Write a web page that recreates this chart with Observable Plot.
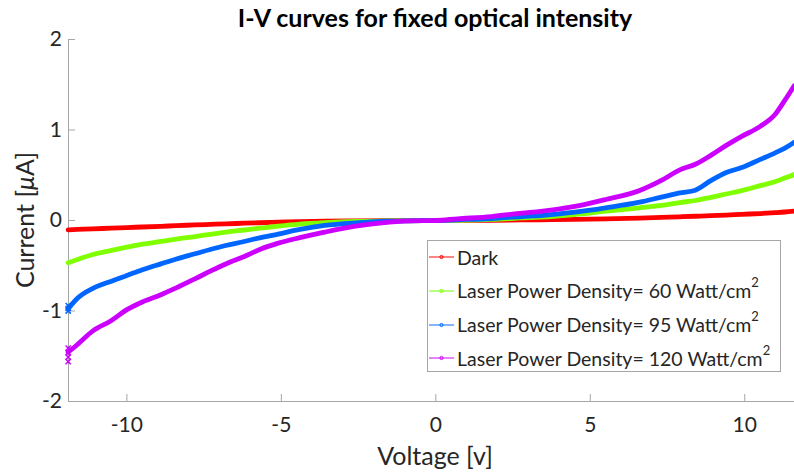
<!DOCTYPE html>
<html>
<head>
<meta charset="utf-8">
<script src="https://cdn.jsdelivr.net/npm/d3@7"></script>
<script src="https://cdn.jsdelivr.net/npm/@observablehq/plot@0.6"></script>
<style>
  html, body { margin: 0; padding: 0; background: #fff; overflow: hidden; }
  #wrap { position: relative; width: 794px; height: 472px; font-family: Lato, "Open Sans", sans-serif; color: #262626; }
  #chart { position: absolute; left: 0; top: 0; }
  .title { position: absolute; left: 0; width: 870px; top: 2px; text-align: center; font-weight: bold; font-size: 25px; color: #000; white-space: nowrap; }
  .xlabel { position: absolute; left: 0; width: 870px; top: 440px; text-align: center; font-size: 25px; white-space: nowrap; }
  .ylabel { position: absolute; left: 24px; top: 220px; transform: translate(-50%, -50%) rotate(-90deg); font-size: 25px; white-space: nowrap; }
  .legend { position: absolute; left: 427px; top: 240px; width: 354px; height: 132px; border: 1px solid #a6a6a6; background: #fff; box-sizing: border-box; }
  .row { position: absolute; left: 0; height: 30px; display: flex; align-items: center; font-size: 19.5px; white-space: nowrap; }
  .row svg { margin-left: 1px; margin-right: 2px; }
  .row sup { font-size: 13px; vertical-align: 0; position: relative; top: -11px; }
</style>
</head>
<body>
<div id="wrap">
  <div id="chart"></div>
  <div class="title">I-V curves for fixed optical intensity</div>
  <div class="ylabel">Current [<i>μ</i>A]</div>
  <div class="xlabel">Voltage [v]</div>
  <div class="legend" id="legend"></div>
</div>
<script>
// Bias voltage sweep [V]
const voltage = [
  -11.9, -11.6, -11.1, -10.5, -10.0, -9.5, -8.9, -8.4, -7.8, -7.3, -6.8, -6.2, -5.7, -5.1,
  -4.4, -3.6, -2.6, -1.5, -0.4, 0.0, 0.7, 1.8, 2.8, 3.4, 4.5, 5.5, 6.6, 7.3, 7.9, 8.4,
  8.9, 9.4, 9.9, 10.5, 11.0, 11.3, 11.6
];

// Measured current [µA] for each illumination condition
const currentDark = [
  -0.103, -0.099, -0.092, -0.085, -0.078, -0.072, -0.064, -0.057, -0.049, -0.043, -0.037, -0.030, -0.025, -0.019,
  -0.012, -0.007, -0.004, -0.002, -0.001, 0.000, 0.001, 0.003, 0.006, 0.008, 0.013, 0.019, 0.027, 0.034, 0.041, 0.047,
  0.053, 0.060, 0.068, 0.077, 0.087, 0.094, 0.103
];
const current60 = [
  -0.467, -0.430, -0.376, -0.330, -0.295, -0.262, -0.232, -0.205, -0.177, -0.152, -0.129, -0.105, -0.085, -0.062,
  -0.040, -0.024, -0.011, -0.004, -0.001, 0.000, 0.003, 0.012, 0.028, 0.037, 0.066, 0.103, 0.140, 0.166, 0.198, 0.221,
  0.255, 0.293, 0.330, 0.385, 0.430, 0.470, 0.508
];
const current95 = [
  -0.976, -0.860, -0.750, -0.670, -0.608, -0.545, -0.479, -0.425, -0.368, -0.320, -0.276, -0.232, -0.191, -0.150,
  -0.099, -0.055, -0.026, -0.008, -0.001, 0.000, 0.008, 0.022, 0.044, 0.055, 0.092, 0.140, 0.202, 0.258, 0.305, 0.335,
  0.440, 0.530, 0.585, 0.675, 0.750, 0.800, 0.865
];
const current120 = [
  -1.455, -1.370, -1.220, -1.105, -0.985, -0.900, -0.821, -0.744, -0.645, -0.560, -0.480, -0.398, -0.320, -0.250,
  -0.190, -0.129, -0.063, -0.018, -0.002, 0.000, 0.018, 0.044, 0.081, 0.100, 0.155, 0.232, 0.331, 0.442, 0.560, 0.622,
  0.720, 0.830, 0.930, 1.040, 1.180, 1.330, 1.490
];

// Repeated readings at the first bias point of the sweep
const startVoltage = -11.9;
const startReadings95 = [-0.94, -0.97, -1.00];
const startReadings120 = [-1.41, -1.46, -1.51, -1.56];

const seriesNames = [
  "Dark",
  "Laser Power Density= 60 Watt/cm",
  "Laser Power Density= 95 Watt/cm",
  "Laser Power Density= 120 Watt/cm"
];
const seriesValues = [currentDark, current60, current95, current120];
const seriesColors = ["#ff0000", "#80ff00", "#0066ff", "#cc00ff"];
const legendColors = ["#ff5a5a", "#9cff5a", "#5a9bff", "#dd5aff"];

const xDomain = [-11.89, 11.61];
const yDomain = [-2, 2];
const xTicks = [-10, -5, 0, 5, 10];
const xTickLabels = ["-10", "-5", "0", "5", "10"];
const yTicks = [-2, -1, 0, 1, 2];
const yTickLabels = ["-2", "-1", "0", "1", "2"];

const rows = seriesValues.flatMap((vals, s) =>
  vals.map((c, i) => ({series: seriesNames[s], v: voltage[i], i: c}))
);
const startRows = [
  ...startReadings95.map((c) => ({series: seriesNames[2], v: startVoltage, i: c})),
  ...startReadings120.map((c) => ({series: seriesNames[3], v: startVoltage, i: c}))
];

const axisColor = "#a6a6a6";

const chart = Plot.plot({
  width: 794,
  height: 472,
  marginLeft: 68,
  marginRight: 0,
  marginTop: 39,
  marginBottom: 71,
  x: {domain: xDomain},
  y: {domain: yDomain},
  color: {domain: seriesNames, range: seriesColors},
  style: {fontFamily: "Lato, 'Open Sans', sans-serif", fontSize: "21px", color: "#262626", background: "transparent", overflow: "visible"},
  marks: [
    Plot.ruleY([yDomain[0]], {stroke: axisColor}),
    Plot.ruleX([xDomain[0]], {stroke: axisColor}),
    Plot.axisX(xTicks, {tickSize: -7, tickPadding: 23, stroke: axisColor, fill: "#262626", label: null,
      tickFormat: (d) => xTickLabels[xTicks.indexOf(d)]}),
    Plot.axisY(yTicks, {tickSize: -7, tickPadding: 13.6, stroke: axisColor, fill: "#262626", label: null,
      tickFormat: (d) => yTickLabels[yTicks.indexOf(d)]}),
    Plot.line(rows, {x: "v", y: "i", z: "series", stroke: "series", strokeWidth: 4.8, strokeLinejoin: "round", strokeLinecap: "round", curve: "monotone-x"}),
    Plot.dot(startRows, {x: "v", y: "i", stroke: "series", r: 2.5, strokeWidth: 1.5, symbol: "times"})
  ]
});
document.getElementById("chart").appendChild(chart);

// Legend box drawn over the lower right of the axes
const legend = d3.select("#legend");
seriesNames.forEach((name, k) => {
  const row = legend.append("div").attr("class", "row").style("top", (1 + k * 33.8) + "px");
  const svg = row.append("svg").attr("width", 26).attr("height", 8);
  svg.append("line").attr("x1", 0).attr("x2", 25).attr("y1", 4).attr("y2", 4)
    .attr("stroke", legendColors[k]).attr("stroke-width", 1.5);
  svg.append("circle").attr("cx", 12.5).attr("cy", 4).attr("r", 1.6)
    .attr("fill", "none").attr("stroke", seriesColors[k]).attr("stroke-width", 1);
  const label = row.append("span").text(name);
  if (k > 0) label.append("sup").text("2");
});
</script>
</body>
</html>
